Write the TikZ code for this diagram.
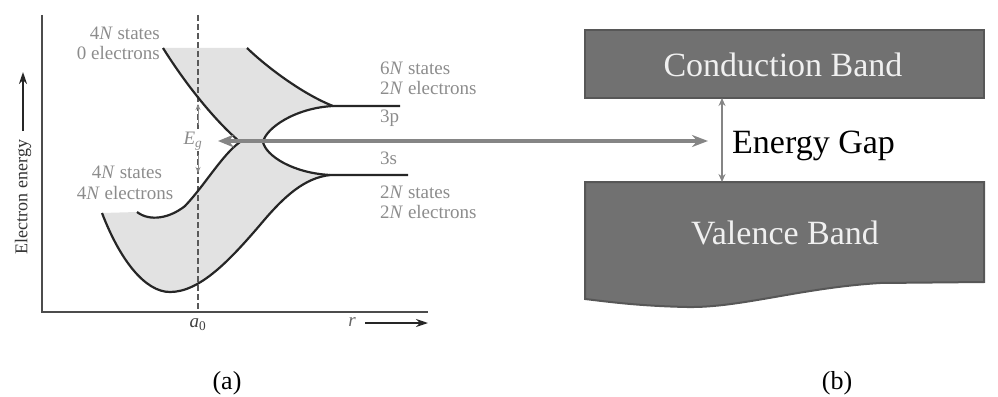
\documentclass[tikz,border=0pt]{standalone}
\usepackage{fontspec}
\setmainfont{Liberation Serif}
\usetikzlibrary{arrows.meta}
\definecolor{lbl}{HTML}{8C8C8C}
\definecolor{bandshade}{HTML}{E2E2E2}
\definecolor{bandfill}{HTML}{717171}
\definecolor{bandedge}{HTML}{575757}
\definecolor{gapgray}{HTML}{858585}
\tikzset{
  curve/.style={line width=2.2pt, black!85},
  glabel/.style={inner sep=0pt, text=lbl, font=\fontsize{19}{22}\selectfont},
  bandbox/.style={fill=bandfill, draw=bandedge, line width=2pt},
  bandtext/.style={text=white!94!black, font=\fontsize{34}{40}\selectfont, inner sep=0pt},
  caption/.style={font=\fontsize{26}{30}\selectfont, inner sep=0pt},
  axisline/.style={line width=1.5pt, black!70},
}
\begin{document}
\begin{tikzpicture}[x=1pt,y=-1pt]
\useasboundingbox (0,0) rectangle (998,396);
% shading of bands
\fill[bandshade] (163,48) -- (247,48) .. controls (270,70) and (305,95) .. (333,106)
  .. controls (295,108) and (266,128) .. (263,142) -- (240,142)
  .. controls (212,118) and (183,80) .. (163,48) -- cycle;
\fill[bandshade] (102,213) -- (137,212) .. controls (150,222) and (170,218) .. (185,206)
  .. controls (205,185) and (222,155) .. (240,142) -- (263,142)
  .. controls (266,156) and (293,173) .. (330,175)
  .. controls (305,178) and (285,195) .. (260,225)
  .. controls (230,260) and (200,292) .. (170,292)
  .. controls (145,292) and (120,260) .. (102,213) -- cycle;
% axes
\draw[axisline] (42,15) -- (42,312) -- (428,312);
% dashed a0 line
\draw[black!65, line width=1.4pt, dash pattern=on 6pt off 3pt] (198,15) -- (198,312);
% band curves
\draw[curve] (163,48) .. controls (183,80) and (212,118) .. (240,142);
\draw[curve] (247,48) .. controls (270,70) and (305,95) .. (333,106) -- (400,106);
\draw[curve] (263,142) .. controls (266,128) and (295,108) .. (333,106);
\draw[curve] (263,142) .. controls (266,156) and (293,173) .. (330,175) -- (408,175);
\draw[curve] (137,212) .. controls (150,222) and (170,218) .. (185,206)
  .. controls (205,185) and (222,155) .. (240,142);
\draw[curve] (102,213) .. controls (120,260) and (145,292) .. (170,292)
  .. controls (200,292) and (230,260) .. (260,225)
  .. controls (285,195) and (305,178) .. (330,175);
% Eg arrows
\node[glabel, fill=white, inner sep=1pt] (eg) at (193,141) {\textit{E}\textsubscript{\textit{g}}};
\coordinate (egup) at (198,104);
\coordinate (egdn) at (198,173);
\draw[lbl, line width=1pt, -{Stealth[length=6pt,width=5pt]}] (198,125) -- (egup);
\draw[lbl, line width=1pt, -{Stealth[length=6pt,width=5pt]}] (198,155) -- (egdn);
% labels left graph
\node[glabel, anchor=east] (l1) at (160,33) {4\textit{N} states};
\node[glabel, anchor=east] (l2) at (160,53) {0 electrons};
\node[glabel] (l3) at (127,172) {4\textit{N} states};
\node[glabel] (l4) at (125,193) {4\textit{N} electrons};
\node[glabel, anchor=west] (r1) at (380,68) {6\textit{N} states};
\node[glabel, anchor=west] (r2) at (380,88) {2\textit{N} electrons};
\node[glabel, anchor=west] (r3) at (380,118) {3p};
\node[glabel, anchor=west] (r4) at (380,158) {3s};
\node[glabel, anchor=west] (r5) at (380,192) {2\textit{N} states};
\node[glabel, anchor=west] (r6) at (380,212) {2\textit{N} electrons};
% axis labels
\node[glabel, text=black!75] (a0) at (198,325) {\textit{a}\textsubscript{0}};
\node[glabel, text=black!60] (rr) at (352,322) {\textit{r}};
\coordinate (rarrS) at (365,323);
\coordinate (rarrE) at (428,323);
\draw[line width=1.8pt, black!85, -{Stealth[length=12pt,width=8pt]}] (rarrS) -- (rarrE);
\node[inner sep=0pt, rotate=90, text=black!80, font=\fontsize{18}{20}\selectfont] (ee) at (23,197) {Electron energy};
\coordinate (eeS) at (23,131);
\coordinate (eeE) at (23,72);
\draw[line width=1.8pt, black!85, -{Stealth[length=12pt,width=8pt]}] (eeS) -- (eeE);
% right side bands
\draw[bandbox] (585,30) rectangle (984,98);
\node[bandtext] (cb) at (783,65) {Conduction Band};
\draw[bandbox] (585,182) -- (984,182) -- (984,282) -- (880,283)
  .. controls (800,288) and (740,308) .. (687,307)
  .. controls (640,306) and (610,302) .. (585,299) -- cycle;
\node[bandtext] (vb) at (785,233) {Valence Band};
\node[inner sep=0pt, anchor=west, font=\fontsize{34}{40}\selectfont] (eg2) at (732,146) {Energy Gap};
\coordinate (cbB) at (722,98);
\coordinate (vbT) at (722,182);
\draw[gapgray, line width=1.3pt, {Stealth[length=8pt,width=7pt]}-{Stealth[length=8pt,width=7pt]}] (cbB) -- (vbT);
% connecting gray arrow
\coordinate (gapL) at (218,141);
\coordinate (gapR) at (708,141);
\draw[gapgray, line width=3.5pt, {Stealth[length=16pt,width=13pt]}-{Stealth[length=16pt,width=12pt]}] (gapL) -- (gapR);
% captions
\node[caption] (capa) at (227,383) {(a)};
\node[caption] (capb) at (837,383) {(b)};
\end{tikzpicture}
\end{document}
